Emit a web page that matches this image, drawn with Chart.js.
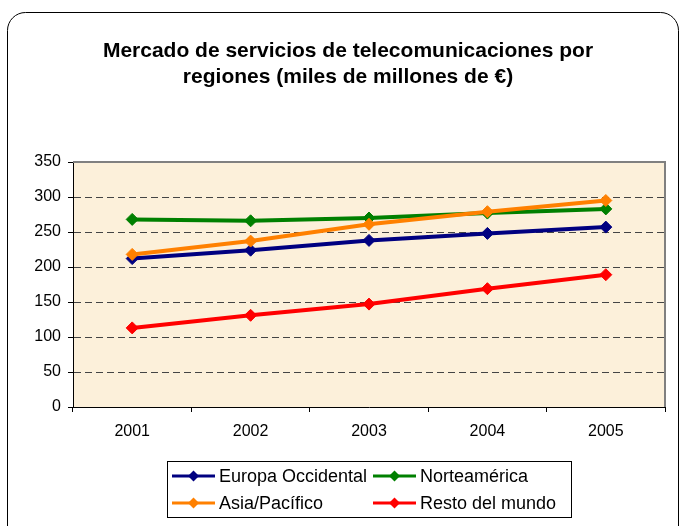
<!DOCTYPE html>
<html>
<head>
<meta charset="utf-8">
<script src="https://cdn.jsdelivr.net/npm/chart.js@4/dist/chart.umd.min.js"></script>
<style>
  html, body { margin: 0; padding: 0; background: #fff; }
  #wrap { width: 680px; height: 526px; }
</style>
</head>
<body>
<div id="wrap"><canvas id="chart" width="680" height="526"></canvas></div>
<script>
var years = ["2001", "2002", "2003", "2004", "2005"];
var europa = [212, 224, 238, 248, 257];
var norteamerica = [268, 266, 270, 277, 283];
var asia = [218, 237, 261, 279, 295];
var resto = [113, 131, 147, 169, 189];
var seriesNames = ["Europa Occidental", "Norteamérica", "Asia/Pacífico", "Resto del mundo"];
var seriesColors = ["#000080", "#008000", "#FF8000", "#FF0000"];
var titleLines = ["Mercado de servicios de telecomunicaciones por", "regiones (miles de millones de €)"];

var FONT = '"Liberation Sans", Arial, sans-serif';

function makeSet(i, values, order) {
  return {
    label: seriesNames[i],
    data: values,
    borderColor: seriesColors[i],
    backgroundColor: seriesColors[i],
    pointBackgroundColor: seriesColors[i],
    pointBorderColor: seriesColors[i],
    borderWidth: 4,
    pointStyle: "rectRot",
    pointRadius: 6,
    pointHoverRadius: 6,
    pointBorderWidth: 1,
    tension: 0,
    fill: false,
    order: order
  };
}

// frame, plot background, title and legend
var decor = {
  id: "decor",
  beforeDraw: function (c) {
    var ctx = c.ctx, a = c.chartArea;
    ctx.save();
    ctx.fillStyle = "#fff";
    ctx.fillRect(0, 0, c.width, c.height);
    ctx.beginPath();
    ctx.roundRect(7.5, 12.5, 671, 560, 18);
    ctx.strokeStyle = "#000";
    ctx.lineWidth = 1;
    ctx.stroke();
    ctx.fillStyle = "#FCF0DA";
    ctx.fillRect(a.left, a.top, a.right - a.left, a.bottom - a.top);
    ctx.restore();
  },
  beforeDatasetsDraw: function (c) {
    var ctx = c.ctx, a = c.chartArea;
    ctx.save();
    ctx.strokeStyle = "#808080";
    ctx.lineWidth = 2;
    ctx.beginPath();
    ctx.moveTo(a.left, a.top);
    ctx.lineTo(a.right, a.top);
    ctx.lineTo(a.right, a.bottom);
    ctx.stroke();
    ctx.restore();
  },
  afterDraw: function (c) {
    var ctx = c.ctx;
    ctx.save();
    ctx.fillStyle = "#000";
    ctx.font = "bold 21px " + FONT;
    ctx.textAlign = "center";
    ctx.textBaseline = "alphabetic";
    ctx.fillText(titleLines[0], 348, 57);
    ctx.fillText(titleLines[1], 348, 83);

    // legend
    ctx.strokeStyle = "#000";
    ctx.lineWidth = 1;
    ctx.strokeRect(167.5, 461.5, 404, 56);
    ctx.font = "18px " + FONT;
    ctx.textAlign = "left";
    ctx.textBaseline = "middle";
    var cols = [172, 373], rows = [476, 503];
    c.data.datasets.forEach(function (ds, i) {
      var x = cols[i % 2], y = rows[Math.floor(i / 2)];
      ctx.strokeStyle = ds.borderColor;
      ctx.lineWidth = 3;
      ctx.beginPath();
      ctx.moveTo(x, y);
      ctx.lineTo(x + 43, y);
      ctx.stroke();
      ctx.fillStyle = ds.borderColor;
      ctx.beginPath();
      ctx.moveTo(x + 21.5, y - 5.5);
      ctx.lineTo(x + 27, y);
      ctx.lineTo(x + 21.5, y + 5.5);
      ctx.lineTo(x + 16, y);
      ctx.closePath();
      ctx.fill();
      ctx.fillStyle = "#000";
      ctx.fillText(ds.label, x + 47, y + 1);
    });
    ctx.restore();
  }
};

var chart = new Chart(document.getElementById("chart"), {
  type: "line",
  data: {
    labels: years,
    datasets: [
      makeSet(0, europa, 3),
      makeSet(1, norteamerica, 2),
      makeSet(2, asia, 1),
      makeSet(3, resto, 0)
    ]
  },
  options: {
    responsive: false,
    animation: false,
    devicePixelRatio: 1,
    layout: { padding: { top: 162, left: 0, right: 15, bottom: 79 } },
    plugins: {
      legend: { display: false },
      title: { display: false },
      tooltip: { enabled: false }
    },
    scales: {
      x: {
        offset: true,
        afterFit: function (s) { s.height = 40; },
        grid: {
          offset: true,
          drawOnChartArea: false,
          drawTicks: true,
          tickLength: 5,
          tickColor: "#000",
          tickWidth: 1
        },
        border: { display: true, color: "#000", width: 1 },
        ticks: { color: "#000", padding: 10, font: { family: FONT, size: 16 }, maxRotation: 0 }
      },
      y: {
        min: 0,
        max: 350,
        afterFit: function (s) { s.width = 73; },
        grid: {
          color: function (ctx) {
            var v = ctx.tick ? ctx.tick.value : null;
            return (v === 0 || v === 350) ? "rgba(0,0,0,0)" : "#444";
          },
          lineWidth: 1,
          drawTicks: true,
          tickLength: 5,
          tickColor: "#000",
          tickWidth: 1
        },
        border: { display: true, color: "#000", width: 1, dash: [7, 4] },
        ticks: { stepSize: 50, color: "#000", padding: 7, font: { family: FONT, size: 16 } }
      }
    }
  },
  plugins: [decor]
});
</script>
</body>
</html>
